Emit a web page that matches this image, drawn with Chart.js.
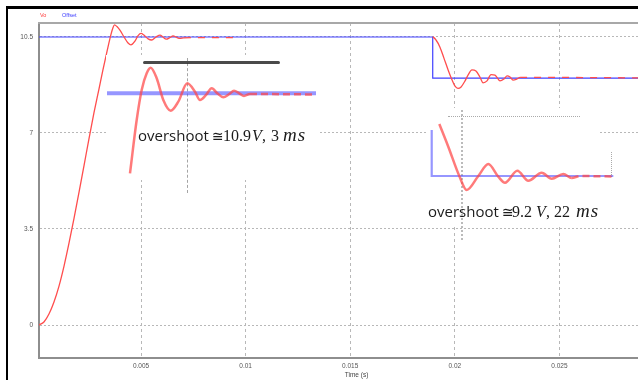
<!DOCTYPE html>
<html>
<head>
<meta charset="utf-8">
<script src="https://cdn.jsdelivr.net/npm/chart.js@4.4.0/dist/chart.umd.min.js"></script>
<style>
  html, body { margin: 0; padding: 0; background: #fff; }
  body { width: 638px; height: 380px; overflow: hidden; position: relative; font-family: "Liberation Sans", Arial, sans-serif; }
  #frame { position: absolute; left: 6px; top: 6px; width: 700px; height: 400px; border-left: 2px solid #000; border-top: 3px solid #000; }
  #mainChart { position: absolute; left: 0; top: 0; }
  .legend { position: absolute; top: 12px; font-size: 5.5px; line-height: 6px; }
  .white { position: absolute; background: #fff; }
  .deco { position: absolute; }
  .zoom { position: absolute; filter: blur(0.5px); }
  .note { position: absolute; white-space: nowrap; line-height: 20px; height: 20px; color: #1b1b1b; }
  .note span { display: inline-block; }
  .sans { font-family: "Open Sans", sans-serif; font-size: 15px; }
  .sym { font-family: "DejaVu Sans", sans-serif; font-size: 14px; }
  .num { font-family: "Liberation Serif", serif; font-size: 16px; }
  .it { font-family: "Liberation Serif", serif; font-style: italic; font-size: 16px; }
  .ms { letter-spacing: 1px; font-size: 19px; }
</style>
</head>
<body>
<div id="frame"></div>
<canvas id="mainChart" width="676" height="380"></canvas>
<span class="legend" style="left:40px;color:#ff3b3b">Vo</span>
<span class="legend" style="left:62px;color:#3b3bff">Offset</span>

<div class="white" style="left:106px;top:55px;width:214px;height:125px"></div>
<div class="deco" style="left:187px;top:58px;height:135px;border-left:1.5px dashed #a5a5a5"></div>
<div class="deco" style="left:143px;top:61px;width:137px;height:3px;border-radius:2px;background:#2b2b2b;opacity:.85;filter:blur(.4px)"></div>
<canvas id="zoom1" class="zoom" width="214" height="125" style="left:106px;top:55px"></canvas>
<div class="note" style="left:138px;top:125px">
  <span class="sans" style="width:74px">overshoot</span><span class="sym" style="width:11px">≅</span><span class="num" style="width:29px">10.9</span><span class="it" style="width:10px">V</span><span class="num" style="width:9px">,</span><span class="num" style="width:12px">3</span><span class="it ms">ms</span>
</div>

<div class="white" style="left:428px;top:108px;width:172px;height:118px"></div>
<div class="white" style="left:600px;top:142px;width:16px;height:58px"></div>
<div class="deco" style="left:448px;top:116px;width:132px;border-top:1px dotted #aaa"></div>
<div class="deco" style="left:461px;top:110px;height:130px;border-left:2px dotted #bbb"></div>
<div class="deco" style="left:611px;top:152px;height:25px;border-left:1px dotted #aaa"></div>
<canvas id="zoom2" class="zoom" width="188" height="92" style="left:428px;top:108px"></canvas>
<div class="note" style="left:428px;top:201px">
  <span class="sans" style="width:74px">overshoot</span><span class="sym" style="width:10px">≅</span><span class="num" style="width:24px">9.2</span><span class="it" style="width:10px">V</span><span class="num" style="width:8px">,</span><span class="num" style="width:22px">22</span><span class="it ms">ms</span>
</div>

<script>
const VO_T = [
  0.00012, 0.00036, 0.0006, 0.00084, 0.00108, 0.00132, 0.00156, 0.0018, 0.00204, 0.00228,
  0.00251, 0.00275, 0.00299, 0.00318, 0.00338, 0.00352, 0.00364, 0.00373, 0.00385, 0.004,
  0.00419, 0.00438, 0.00452, 0.00471, 0.00486, 0.005, 0.00514, 0.00534, 0.00551, 0.00572,
  0.00591, 0.00605, 0.0062, 0.00639, 0.00653, 0.00672, 0.00686, 0.00705, 0.0094, 0.01894,
  0.0191, 0.01929, 0.01948, 0.01968, 0.01987, 0.02001, 0.02015, 0.0203, 0.02049, 0.02063,
  0.02082, 0.02101, 0.0212, 0.02135, 0.02154, 0.02173, 0.02192, 0.02216, 0.02235, 0.0225,
  0.02264, 0.02278, 0.02297, 0.02312, 0.0305,
];
const VO_V = [
  0, 0.11, 0.4, 0.84, 1.42, 2.15, 2.99, 3.9, 4.85, 5.83,
  6.78, 7.73, 8.6, 9.3, 9.99, 10.46, 10.79, 10.94, 10.88, 10.74,
  10.5, 10.28, 10.21, 10.35, 10.55, 10.63, 10.57, 10.43, 10.39, 10.5,
  10.57, 10.5, 10.42, 10.48, 10.54, 10.48, 10.45, 10.47, 10.48, 10.5,
  10.39, 10.13, 9.73, 9.3, 8.93, 8.71, 8.63, 8.68, 8.9, 9.11,
  9.3, 9.26, 9.04, 8.83, 8.9, 9.13, 9.11, 8.9, 8.97, 9.08,
  9.04, 8.93, 8.97, 9.03, 9.0,
];
const OFFSET_T = [0.00012, 0.018944, 0.018944, 0.0305];
const OFFSET_V = [10.5, 10.5, 9.0, 9.0];

const X_TICKS = [0.005, 0.01, 0.015, 0.02, 0.025];
const Y_TICKS = [0, 3.5, 7, 10.5];

// zoomed copy of the first overshoot
const ZOOM1_T = [
  0.003009, 0.003243, 0.003418, 0.003593, 0.003733, 0.003943, 0.004174, 0.004432, 0.004698, 0.005013,
  0.005282, 0.005457, 0.005667, 0.005866, 0.006062, 0.006271, 0.006481, 0.006646, 0.006831, 0.006995,
  0.007205, 0.009513,
];
const ZOOM1_VO = [
  9.125, 10.041, 10.557, 10.844, 10.94, 10.758, 10.385, 10.201, 10.356, 10.672,
  10.527, 10.385, 10.471, 10.586, 10.5, 10.431, 10.488, 10.545, 10.5, 10.454,
  10.488, 10.479,
];
const ZOOM1_OFFSET_T = [0.002205, 0.009513];
const ZOOM1_OFFSET_V = [10.5, 10.5];

// zoomed copy of the step down
const ZOOM2_T = [
  0.019207, 0.019517, 0.019897, 0.020153, 0.020554, 0.020899, 0.021244, 0.021476, 0.021901, 0.022281,
  0.022744, 0.023089, 0.02349, 0.02378, 0.024067, 0.025217,
];
const ZOOM2_VO = [
  10.376, 9.775, 9.0, 8.63, 9.0, 9.317, 8.981, 8.823, 9.14, 8.876,
  9.087, 8.929, 9.053, 8.947, 9.0, 8.987,
];
const ZOOM2_OFFSET_T = [0.018944, 0.018944, 0.025217];
const ZOOM2_OFFSET_V = [10.217, 9.0, 9.0];

const RED = "#ff4d4d";
const BLUE = "#4040ff";

const toPoints = (xs, ys) => xs.map((x, i) => ({ x, y: ys[i] }));

const inRanges = (c, ranges) =>
  ranges.some(([a, b]) => c.p0.parsed.x >= a - 1e-9 && c.p1.parsed.x <= b + 1e-9);

const frameTop = {
  id: "frameTop",
  afterDraw(chart) {
    const { ctx, chartArea: a } = chart;
    ctx.save();
    ctx.strokeStyle = "#a8a8a8";
    ctx.lineWidth = 2;
    ctx.beginPath();
    ctx.moveTo(a.left - 1, a.top);
    ctx.lineTo(a.right, a.top);
    ctx.stroke();
    ctx.restore();
  },
};

function initMain() {
  Chart.defaults.font.family = "'Liberation Sans', Arial, sans-serif";
  const dashed = [[0.00705, 0.0094], [0.02312, 0.031]];
  const hidden = [[0.0094, 0.01894]];

  new Chart(document.getElementById("mainChart"), {
    type: "line",
    data: {
      datasets: [
        {
          label: "Vo",
          data: toPoints(VO_T, VO_V),
          borderColor: RED,
          borderWidth: 1.3,
          pointRadius: 0,
          cubicInterpolationMode: "monotone",
          segment: {
            borderColor: (c) => (inRanges(c, hidden) ? "rgba(0,0,0,0)" : undefined),
            borderDash: (c) => (inRanges(c, dashed) ? [7, 7] : undefined),
          },
        },
        {
          label: "Offset",
          data: toPoints(OFFSET_T, OFFSET_V),
          borderColor: BLUE,
          borderWidth: 1.2,
          pointRadius: 0,
          tension: 0,
        },
      ],
    },
    options: {
      responsive: false,
      animation: false,
      events: [],
      layout: { padding: { top: 23, right: 2, left: 0, bottom: 0 } },
      plugins: { legend: { display: false }, tooltip: { enabled: false } },
      scales: {
        x: {
          type: "linear",
          min: 0.000124,
          max: 0.030477,
          afterFit: (s) => { s.height = 22; },
          afterBuildTicks: (s) => { s.ticks = X_TICKS.map((value) => ({ value })); },
          grid: { color: "#b8b8b8", lineWidth: 1, drawTicks: false },
          border: { color: "#8e8e8e", width: 2, dash: [3, 3] },
          ticks: { padding: 4, color: "#555", font: { size: 6.5 }, maxRotation: 0, callback: (v) => String(v) },
          title: { display: true, text: "Time (s)", color: "#444", font: { size: 6.5 }, padding: { top: 0, bottom: 1 } },
        },
        y: {
          type: "linear",
          min: -1.203,
          max: 11.01,
          afterFit: (s) => { s.width = 39; },
          afterBuildTicks: (s) => { s.ticks = Y_TICKS.map((value) => ({ value })); },
          grid: { color: "#b8b8b8", lineWidth: 1, drawTicks: false },
          border: { color: "#8e8e8e", width: 2, dash: [2, 2] },
          ticks: { padding: 6, color: "#555", font: { size: 6.5 }, callback: (v) => String(v) },
        },
      },
    },
    plugins: [frameTop],
  });
}

function initZoom(id, red, blue, lim, dashFrom, blueWidth) {
  new Chart(document.getElementById(id), {
    type: "line",
    data: {
      datasets: [
        {
          data: red,
          borderColor: "rgba(255, 70, 70, 0.72)",
          borderWidth: 2.5,
          pointRadius: 0,
          cubicInterpolationMode: "monotone",
          segment: { borderDash: (c) => (c.p0.parsed.x >= dashFrom - 1e-9 ? [7, 4] : undefined) },
        },
        {
          data: blue,
          borderColor: "rgba(80, 80, 255, 0.6)",
          borderWidth: blueWidth,
          pointRadius: 0,
          tension: 0,
        },
      ],
    },
    options: {
      responsive: false,
      animation: false,
      events: [],
      layout: { padding: 0 },
      plugins: { legend: { display: false }, tooltip: { enabled: false } },
      scales: {
        x: { type: "linear", display: false, min: lim[0], max: lim[1] },
        y: { type: "linear", display: false, min: lim[2], max: lim[3] },
      },
    },
  });
}

function init() {
  initMain();
  initZoom("zoom1", toPoints(ZOOM1_T, ZOOM1_VO), toPoints(ZOOM1_OFFSET_T, ZOOM1_OFFSET_V),
    [0.00217, 0.009653, 9.01, 11.158], 0.007205, 4);
  initZoom("zoom2", toPoints(ZOOM2_T, ZOOM2_VO), toPoints(ZOOM2_OFFSET_T, ZOOM2_OFFSET_V),
    [0.018816, 0.02531, 8.365, 10.799], 0.02378, 2.2);
}

document.addEventListener("DOMContentLoaded", init);
</script>
</body>
</html>
